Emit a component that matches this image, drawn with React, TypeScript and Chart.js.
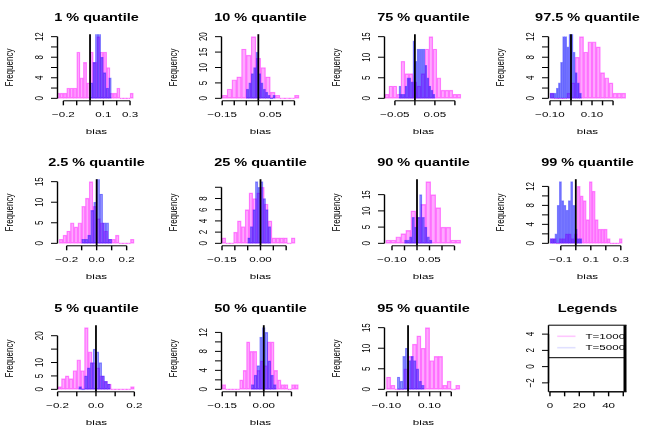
import React, { useEffect, useRef } from "react";
import { Chart, registerables } from "chart.js";

Chart.register(...registerables);

// ---------- text ----------
const panelTitles = [
  "1 % quantile", "10 % quantile", "75 % quantile", "97.5 % quantile",
  "2.5 % quantile", "25 % quantile", "90 % quantile", "99 % quantile",
  "5 % quantile", "50 % quantile", "95 % quantile",
];
const legendTitle = "Legends";
const seriesLabels = ["T=1000", "T=5000"];
const xAxisTitle = "bias";
const yAxisTitle = "Frequency";
const trueBias = 0;

// ---------- T=1000 histogram counts (pink) ----------
const q01Pink = [1, 1, 1, 2, 2, 2, 9, 4, 7, 3, 9, 7, 12, 9, 9, 6, 1, 1, 2, 0, 0, 0, 1];
const q10Pink = [1, 3, 6, 7, 16, 14, 20, 13, 10, 7, 2, 1, 0, 0, 0, 1];
const q75Pink = [1, 3, 3, 1, 9, 6, 6, 4, 3, 6, 12, 15, 12, 5, 2, 2, 2, 1, 1];
const q975Pink = [1, 0, 0, 0, 1, 3, 8, 12, 9, 11, 11, 10, 5, 4, 3, 1, 1, 1];
const q025Pink = [1, 2, 3, 5, 4, 5, 9, 11, 15, 9, 6, 5, 3, 1, 1, 2, 0, 0, 0, 1];
const q25Pink = [1, 0, 0, 2, 4, 3, 6, 9, 8, 9, 10, 7, 4, 1, 1, 1, 1, 0, 1];
const q90Pink = [1, 1, 2, 3, 4, 10, 8, 12, 19, 15, 11, 5, 5, 1, 1];
const q99Pink = [1, 1, 0, 1, 1, 2, 2, 1, 2, 12, 10, 9, 5, 13, 11, 5, 3, 3, 3, 1, 0, 0, 0, 1];
const q05Pink = [1, 4, 5, 4, 7, 11, 7, 23, 14, 10, 8, 5, 3, 2, 0, 0, 0, 0, 0, 1];
const q50Pink = [1, 0, 0, 0, 0, 2, 4, 10, 8, 8, 4, 6, 5, 10, 10, 4, 2, 1, 1, 0, 1, 1];
const q95Pink = [3, 1, 0, 0, 5, 8, 11, 13, 10, 15, 7, 8, 8, 1, 2, 0, 1];

// ---------- T=5000 histogram counts (blue) ----------
const q01Blue = [3, 7, 13, 13, 8, 5, 2, 4];
const q10Blue = [3, 5, 8, 10, 15, 8, 5, 3, 2, 1, 0, 1];
const q75Blue = [3, 1, 1, 3, 5, 5, 4, 14, 9, 12, 12, 12, 12, 8, 5, 3, 2, 1];
const q975Blue = [1, 1, 1, 2, 3, 7, 12, 12, 10, 13, 13, 9, 5, 3, 1];
const q025Blue = [1, 1, 2, 8, 10, 16, 12, 5, 5, 1];
const q25Blue = [1, 3, 6, 11, 10, 11, 8, 6, 3];
const q90Blue = [1, 1, 2, 8, 5, 8, 15, 8, 5, 2, 1];
const q99Blue = [1, 1, 2, 8, 13, 9, 8, 7, 9, 13, 8, 3, 1, 1];
const q05Blue = [1, 0, 5, 8, 10, 15, 14, 10, 5, 3, 2];
const q50Blue = [1, 3, 5, 11, 13, 12, 6, 3, 1];
const q95Blue = [3, 2, 8, 10, 7, 8, 7, 5, 2, 1];

const pinkCounts = [q01Pink, q10Pink, q75Pink, q975Pink, q025Pink, q25Pink, q90Pink, q99Pink, q05Pink, q50Pink, q95Pink];
const blueCounts = [q01Blue, q10Blue, q75Blue, q975Blue, q025Blue, q25Blue, q90Blue, q99Blue, q05Blue, q50Blue, q95Blue];

// bin breaks: first break and bin width
const pinkStarts = [-0.25, -0.15, -0.075, -0.1, -0.25, -0.15, -0.125, -0.17, -0.2, -0.15, -0.1];
const pinkWidths = [0.025, 0.02, 0.01, 0.02, 0.025, 0.015, 0.02, 0.02, 0.02, 0.0125, 0.02];
const blueStarts = [0, -0.05, -0.04, -0.1, -0.1, -0.05, -0.05, -0.17, -0.09, -0.045, -0.05];
const blueWidths = [0.02, 0.01, 0.005, 0.01, 0.02, 0.01, 0.01, 0.015, 0.015, 0.01, 0.0125];

// ---------- axes ----------
const xMins = [-0.244, -0.153, -0.076, -0.107, -0.261, -0.152, -0.13, -0.182, -0.2005, -0.1527, -0.109];
const xMaxs = [0.341, 0.171, 0.119, 0.264, 0.259, 0.152, 0.182, 0.338, 0.206, 0.129, 0.252];
const yMaxs = [12, 20, 15, 12, 15, 11, 19, 13, 23, 13, 15];

const xTicks = [
  [-0.2, -0.1, 0, 0.1, 0.2, 0.3],
  [-0.15, -0.1, -0.05, 0, 0.05, 0.1, 0.15],
  [-0.05, 0, 0.05, 0.1],
  [-0.1, -0.05, 0, 0.05, 0.1, 0.15, 0.2],
  [-0.2, -0.1, 0, 0.1, 0.2],
  [-0.15, -0.1, -0.05, 0, 0.05, 0.1],
  [-0.1, -0.05, 0, 0.05, 0.1, 0.15],
  [-0.1, 0, 0.1, 0.2, 0.3],
  [-0.2, -0.1, 0, 0.1, 0.2],
  [-0.15, -0.1, -0.05, 0, 0.05, 0.1],
  [-0.1, -0.05, 0, 0.05, 0.1, 0.15, 0.2],
];
const xTickLabels = [
  ["\u22120.2", "", "", "0.1", "", "0.3"],
  ["\u22120.15", "", "", "", "0.05", "", ""],
  ["\u22120.05", "", "0.05", ""],
  ["\u22120.10", "", "", "", "0.10", "", ""],
  ["\u22120.2", "", "0.0", "", "0.2"],
  ["\u22120.15", "", "", "0.00", "", ""],
  ["\u22120.10", "", "", "0.05", "", ""],
  ["\u22120.1", "", "0.1", "", "0.3"],
  ["\u22120.2", "", "0.0", "", "0.2"],
  ["\u22120.15", "", "", "0.00", "", ""],
  ["\u22120.10", "", "", "", "0.10", "", ""],
];
const yTicks = [
  [0, 2, 4, 6, 8, 10, 12],
  [0, 5, 10, 15, 20],
  [0, 5, 10, 15],
  [0, 2, 4, 6, 8, 10, 12],
  [0, 5, 10, 15],
  [0, 2, 4, 6, 8, 10],
  [0, 5, 10, 15],
  [0, 2, 4, 6, 8, 10, 12],
  [0, 5, 10, 15, 20],
  [0, 2, 4, 6, 8, 10, 12],
  [0, 5, 10, 15],
];
const yTickLabels = [
  ["0", "", "4", "", "8", "", "12"],
  ["0", "5", "10", "15", "20"],
  ["0", "5", "10", "15"],
  ["0", "", "4", "", "8", "", "12"],
  ["0", "5", "10", "15"],
  ["0", "2", "4", "6", "8", ""],
  ["0", "5", "10", "15"],
  ["0", "", "4", "", "8", "", "12"],
  ["0", "5", "10", "", "20"],
  ["0", "", "4", "", "8", "", "12"],
  ["0", "5", "10", "15"],
];

// legend panel axes
const legendXRange = [-1, 52.2];
const legendYRange = [-3.1, 5.1];
const legendXTicks = [0, 10, 20, 30, 40, 50];
const legendXTickLabels = ["0", "", "20", "", "40", ""];
const legendYTicks = [-2, 0, 2, 4];
const legendYTickLabels = ["\u22122", "0", "2", "4"];

// ---------- style ----------
const PINK_FILL = "rgba(255,0,255,0.34)";
const PINK_EDGE = "rgba(255,0,255,0.42)";
const BLUE_FILL = "rgba(0,0,255,0.34)";
const BLUE_EDGE = "rgba(0,0,255,0.42)";
const PINK_LEGEND = "rgba(255,0,255,0.22)";
const BLUE_LEGEND = "rgba(0,0,255,0.12)";
const FONT = '"Liberation Sans", Arial, Helvetica, sans-serif';
const SX = 1.45; // horizontal stretch of the original device
const PANEL_W = 163.5;
const PANEL_H = 145.333;
const CANVAS_W = 164;
const CANVAS_H = 146;
const PAD = { left: 57.5, right: 28.5, top: 34.2, bottom: 45.2 };

function seg(ctx: any, x1: number, y1: number, x2: number, y2: number) {
  ctx.beginPath();
  ctx.moveTo(x1, y1);
  ctx.lineTo(x2, y2);
  ctx.stroke();
}

function hText(ctx: any, s: string, x: number, y: number, size: number, bold: boolean) {
  ctx.save();
  ctx.translate(x, y);
  ctx.scale(SX, 1);
  ctx.font = `${bold ? "bold " : ""}${size}px ${FONT}`;
  ctx.fillStyle = "#000";
  ctx.textAlign = "center";
  ctx.textBaseline = "alphabetic";
  ctx.fillText(s, 0, 0);
  ctx.restore();
}

function vText(ctx: any, s: string, x: number, y: number, size: number) {
  ctx.save();
  ctx.translate(x, y);
  ctx.scale(SX, 1);
  ctx.rotate(-Math.PI / 2);
  ctx.font = `${size}px ${FONT}`;
  ctx.fillStyle = "#000";
  ctx.textAlign = "center";
  ctx.textBaseline = "alphabetic";
  ctx.fillText(s, 0, 0);
  ctx.restore();
}

function xAxis(ctx: any, xs: any, y: number, ticks: number[], labels: string[]) {
  ctx.strokeStyle = "#000";
  const p0 = xs.getPixelForValue(ticks[0]);
  const p1 = xs.getPixelForValue(ticks[ticks.length - 1]);
  ctx.lineWidth = 1;
  seg(ctx, p0, y, p1, y);
  ctx.lineWidth = 1.4;
  ticks.forEach((t) => {
    const px = xs.getPixelForValue(t);
    seg(ctx, px, y, px, y + 4.5);
  });
  labels.forEach((l, i) => {
    if (l) hText(ctx, l, xs.getPixelForValue(ticks[i]), y + 16.5, 8, false);
  });
}

function yAxis(ctx: any, ys: any, x: number, ticks: number[], labels: string[]) {
  ctx.strokeStyle = "#000";
  const p0 = ys.getPixelForValue(ticks[0]);
  const p1 = ys.getPixelForValue(ticks[ticks.length - 1]);
  ctx.lineWidth = 1.4;
  seg(ctx, x, p0, x, p1);
  ctx.lineWidth = 1;
  ticks.forEach((t) => {
    const py = ys.getPixelForValue(t);
    seg(ctx, x - 6.5, py, x, py);
  });
  labels.forEach((l, i) => {
    if (l) vText(ctx, l, x - 14.5, ys.getPixelForValue(ticks[i]), 8);
  });
}

function histData(start: number, width: number, counts: number[]) {
  return counts.map((c, i) => ({ x: start + width * (i + 0.5), y: c }));
}

function makeHistPlugin(p: number) {
  return {
    id: "rHist",
    afterDatasetsDraw(chart: any) {
      const ctx = chart.ctx;
      const a = chart.chartArea;
      const xs = chart.scales.x;
      const ys = chart.scales.y;
      ctx.save();
      const bx = xs.getPixelForValue(trueBias);
      ctx.strokeStyle = "#000";
      ctx.lineWidth = 1.8;
      seg(ctx, bx, a.top, bx, a.bottom);
      xAxis(ctx, xs, a.bottom, xTicks[p], xTickLabels[p]);
      yAxis(ctx, ys, a.left, yTicks[p], yTickLabels[p]);
      hText(ctx, panelTitles[p], (a.left + a.right) / 2, a.top - 13.5, 10, true);
      hText(ctx, xAxisTitle, (a.left + a.right) / 2, a.bottom + 33.3, 8, false);
      vText(ctx, yAxisTitle, a.left - 45, (a.top + a.bottom) / 2, 8);
      ctx.restore();
    },
  };
}

const legendPlugin = {
  id: "rLegend",
  afterDatasetsDraw(chart: any) {
    const ctx = chart.ctx;
    const a = chart.chartArea;
    const xs = chart.scales.x;
    const ys = chart.scales.y;
    ctx.save();
    ctx.strokeStyle = "#000";
    ctx.lineWidth = 1;
    seg(ctx, a.left, a.top, a.right, a.top);
    seg(ctx, a.left, a.bottom, a.right, a.bottom);
    ctx.lineWidth = 1.4;
    seg(ctx, a.left, a.top, a.left, a.bottom);
    ctx.lineWidth = 3;
    seg(ctx, a.right - 1.5, a.top, a.right - 1.5, a.bottom);
    // legend box bottom
    ctx.lineWidth = 1;
    const lb = a.top + 32.5;
    seg(ctx, a.left, lb, a.right - 1.5, lb);
    // legend entries
    const cols = [PINK_LEGEND, BLUE_LEGEND];
    seriesLabels.forEach((s, i) => {
      const y = a.top + 11.1 + i * 11.4;
      ctx.strokeStyle = cols[i];
      ctx.lineWidth = 1.6;
      seg(ctx, a.left + 8.7, y, a.left + 27, y);
      ctx.save();
      ctx.translate(a.left + 37, y);
      ctx.scale(SX, 1);
      ctx.font = `8px ${FONT}`;
      ctx.fillStyle = "#000";
      ctx.textAlign = "left";
      ctx.textBaseline = "middle";
      ctx.fillText(s, 0, 0);
      ctx.restore();
    });
    xAxis(ctx, xs, a.bottom, legendXTicks, legendXTickLabels);
    yAxis(ctx, ys, a.left, legendYTicks, legendYTickLabels);
    hText(ctx, legendTitle, (a.left + a.right) / 2, a.top - 13.5, 10, true);
    ctx.restore();
  },
};

function makeHistChart(canvas: HTMLCanvasElement, p: number) {
  const M = yMaxs[p];
  const common = {
    borderWidth: 0.7,
    borderSkipped: false,
    barPercentage: 1,
    categoryPercentage: 1,
    grouped: false,
    clip: 0,
    minBarLength: 1,
  };
  return new Chart(canvas, {
    type: "bar",
    data: {
      datasets: [
        {
          ...common,
          label: seriesLabels[0],
          data: histData(pinkStarts[p], pinkWidths[p], pinkCounts[p]),
          xAxisID: "x",
          yAxisID: "y",
          backgroundColor: PINK_FILL,
          borderColor: PINK_EDGE,
          order: 1,
        },
        {
          ...common,
          label: seriesLabels[1],
          data: histData(blueStarts[p], blueWidths[p], blueCounts[p]),
          xAxisID: "x2",
          yAxisID: "y",
          backgroundColor: BLUE_FILL,
          borderColor: BLUE_EDGE,
          order: 0,
        },
      ],
    } as any,
    options: {
      animation: false,
      responsive: false,
      events: [],
      layout: { padding: PAD },
      scales: {
        x: { type: "linear", min: xMins[p], max: xMaxs[p], display: false, offset: false, ticks: { count: 2 } },
        x2: { type: "linear", axis: "x", min: xMins[p], max: xMaxs[p], display: false, offset: false, ticks: { count: 2 } },
        y: { type: "linear", min: -0.04 * M, max: 1.04 * M, display: false },
      },
      plugins: { legend: { display: false }, tooltip: { enabled: false }, title: { display: false } },
    } as any,
    plugins: [makeHistPlugin(p)],
  });
}

function makeLegendChart(canvas: HTMLCanvasElement) {
  return new Chart(canvas, {
    type: "line",
    data: { datasets: [] },
    options: {
      animation: false,
      responsive: false,
      events: [],
      layout: { padding: PAD },
      scales: {
        x: { type: "linear", min: legendXRange[0], max: legendXRange[1], display: false },
        y: { type: "linear", min: legendYRange[0], max: legendYRange[1], display: false },
      },
      plugins: { legend: { display: false }, tooltip: { enabled: false } },
    } as any,
    plugins: [legendPlugin],
  });
}

function Panel({ index }: { index: number }) {
  const ref = useRef<HTMLCanvasElement>(null);
  useEffect(() => {
    const c = ref.current as HTMLCanvasElement;
    const chart = index < panelTitles.length ? makeHistChart(c, index) : makeLegendChart(c);
    return () => chart.destroy();
  }, [index]);
  const col = index % 4;
  const row = Math.floor(index / 4);
  return (
    <div style={{ position: "absolute", left: col * PANEL_W, top: row * PANEL_H, width: CANVAS_W, height: CANVAS_H }}>
      <canvas ref={ref} width={CANVAS_W} height={CANVAS_H} style={{ display: "block", width: CANVAS_W, height: CANVAS_H }} />
    </div>
  );
}

export default function App() {
  const panels = Array.from({ length: 12 }, (_, i) => i);
  return (
    <div style={{ position: "fixed", left: 0, top: 0, width: 654, height: 436, background: "#fff", overflow: "hidden" }}>
      {panels.map((i) => (
        <Panel key={i} index={i} />
      ))}
    </div>
  );
}
